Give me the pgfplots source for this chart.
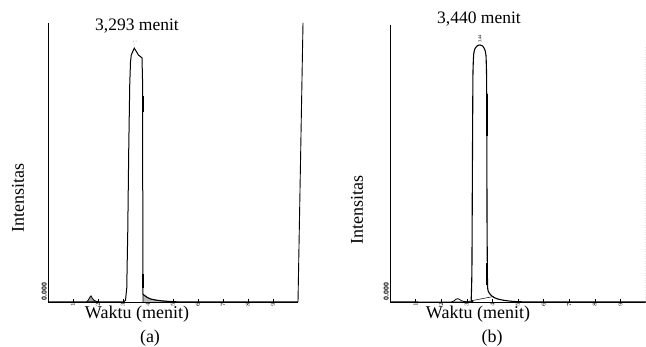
\documentclass[border=0pt]{standalone}
\usepackage{pgfplots}
\pgfplotsset{compat=1.18}
\usepackage{fontspec}
\setmainfont{Liberation Serif}
\setsansfont{Liberation Sans}
\begin{document}
\begin{tikzpicture}
\useasboundingbox (0pt,0pt) rectangle (646pt,347pt);
\pgfplotsset{
  chrom/.style={
    scale only axis,
    anchor=south west,
    xmin=0, xmax=10, ymin=0, ymax=1,
    axis x line*=bottom, axis y line*=left,
    axis line style={black, line width=0.9pt},
    xtick={1,...,9},
    xticklabel style={rotate=90, anchor=east, font=\bfseries\fontsize{6.5}{6.5}\selectfont, inner sep=0.8pt},
    ytick={0}, yticklabels={0.000},
    yticklabel style={rotate=90, anchor=south west, font=\sffamily\bfseries\fontsize{7}{7}\selectfont, inner sep=1.2pt},
    major tick length=2.5pt,
    tick style={black, line width=0.6pt},
    clip=false,
  }
}
% ---------------- Panel (a)
\begin{axis}[chrom, at={(48pt,45pt)}, width=250pt, height=279pt]
\draw[black, line width=0.9pt] (axis cs:10,0) -- (axis cs:10.2,1);
% small bump
\addplot[black, line width=0.8pt, fill=gray!70] coordinates {
(1.55,0) (1.62,0.008) (1.68,0.018) (1.72,0.022) (1.77,0.014) (1.84,0.006) (1.95,0.002) (2.05,0)};
% tail area
\addplot[black, line width=0.6pt, fill=gray!55] coordinates {
(3.80,0) (3.80,0.028) (3.88,0.022) (3.98,0.016) (4.1,0.011) (4.3,0.007) (4.55,0.004) (4.85,0.002) (5.2,0)};
% main peak
\addplot[black, line width=1pt] coordinates {
(0,0) (3.02,0) (3.10,0.006) (3.15,0.05) (3.19,0.25) (3.23,0.55) (3.27,0.78) (3.30,0.86) (3.33,0.885)
(3.45,0.91) (3.52,0.90) (3.62,0.885) (3.76,0.875) (3.78,0.80) (3.79,0.4) (3.80,0.028)
(3.88,0.022) (3.98,0.016) (4.1,0.011) (4.3,0.007) (4.55,0.004) (4.85,0.002) (5.2,0.0005) (6,0) (10,0)};
\addplot[black, line width=1.6pt] coordinates {(3.80,0.05) (3.80,0.1)};
\addplot[black, line width=1.6pt] coordinates {(3.79,0.68) (3.79,0.74)};
\end{axis}
% ---------------- Panel (b)
\begin{axis}[chrom, at={(390pt,45pt)}, width=256pt, height=277pt]
\draw[gray!20, line width=0.4pt, dotted] (axis cs:9.97,0) -- (axis cs:9.97,0.92);
% small bump
\addplot[black, line width=0.8pt] coordinates {
(2.40,0) (2.50,0.004) (2.58,0.010) (2.65,0.012) (2.72,0.009) (2.80,0.004) (2.90,0.002) (3.0,0)};
% integration baseline
\addplot[black, line width=0.5pt] coordinates {(3.05,0.002) (3.60,0.012) (4.05,0.02)};
% main peak
\addplot[black, line width=1.1pt, smooth, tension=0.3] coordinates {
(0,0) (3.10,0) (3.17,0.008) (3.20,0.12) (3.22,0.5) (3.24,0.82) (3.27,0.895) (3.32,0.915)
(3.42,0.926) (3.52,0.928) (3.62,0.924) (3.70,0.912) (3.75,0.89) (3.775,0.80) (3.785,0.50) (3.79,0.30) (3.81,0.06)
(3.86,0.035) (3.95,0.024) (4.05,0.017) (4.2,0.011) (4.45,0.006) (4.8,0.002) (5.2,0.0005) (5.6,0) (10,0)};
\addplot[black, line width=1.8pt] coordinates {(3.785,0.60) (3.785,0.75)};
\addplot[black, line width=1.4pt] coordinates {(3.79,0.06) (3.79,0.14)};
\end{axis}
% ---------------- Texts
\node[font=\fontsize{17.5}{19}\selectfont] at (137pt,321pt) {3,293 menit};
\node[font=\fontsize{17.5}{19}\selectfont] at (479pt,328pt) {3,440 menit};
\node[font=\fontsize{4}{4}\selectfont] at (135pt,305pt) {- -};
\node[rotate=90, font=\fontsize{4.5}{4.5}\selectfont] at (480pt,308pt) {3.44};
\node[rotate=90, font=\fontsize{18}{20}\selectfont] at (18pt,149pt) {Intensitas};
\node[rotate=90, font=\fontsize{18}{20}\selectfont] at (357pt,137pt) {Intensitas};
\node[font=\fontsize{18}{20}\selectfont] at (137pt,33pt) {Waktu (menit)};
\node[font=\fontsize{18}{20}\selectfont] at (478pt,33pt) {Waktu (menit)};
\node[font=\fontsize{18}{20}\selectfont] at (150pt,8.5pt) {(a)};
\node[font=\fontsize{18}{20}\selectfont] at (492pt,8.5pt) {(b)};
\end{tikzpicture}
\end{document}
